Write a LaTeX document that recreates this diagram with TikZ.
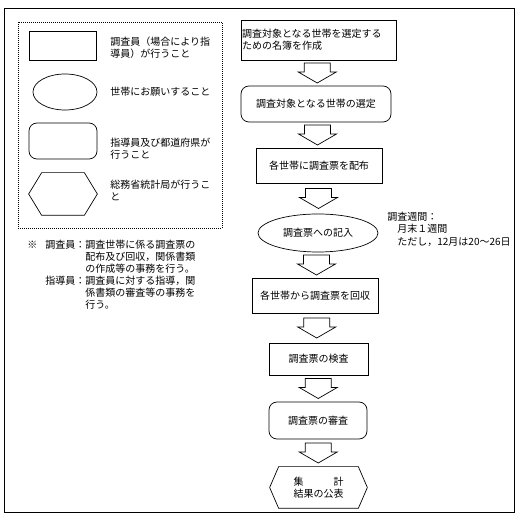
\documentclass[tikz,border=0pt]{standalone}
\usepackage{fontspec}
\newfontfamily\jpfont{Noto Sans CJK JP}
\usetikzlibrary{shapes.geometric,calc}

\begin{document}
\begin{tikzpicture}[
  x=1pt,
  y=-1pt,
  font=\jpfont\fontsize{10}{12}\selectfont,
  line width=0.7pt,
  task/.style={
    draw,
    rectangle,
    inner sep=1pt,
    align=center
  },
  household/.style={
    draw,
    ellipse,
    inner sep=0pt
  },
  guide/.style={
    draw,
    rectangle,
    rounded corners=8pt,
    inner sep=1pt,
    align=center
  },
  bureau/.style={
    rectangle,
    inner sep=0pt,
    align=left
  },
  note/.style={
    inner sep=0pt,
    anchor=west,
    align=left
  }
  ]
  \useasboundingbox (0,0) rectangle (523,521);
  \draw (4,8) rectangle (514,512);
  \draw [dash pattern=on 1pt off 1pt] (18,22) rectangle (222,228);

  \node [task, minimum width=67, minimum height=29] (keyTask) at (63,46) {};
  \node [household, minimum width=64, minimum height=36] (keyHouse) at (65,92) {};
  \node [guide, minimum width=68, minimum height=36] (keyGuide) at (63,141) {};
  \node [bureau, minimum width=68, minimum height=42] (keyBureau) at (63,194) {};
  \node [note] (keyTaskText) at (110,47.5) {調査員（場合により指\\導員）が行うこと};
  \node [note] (keyHouseText) at (110,92) {世帯にお願いすること};
  \node [note] (keyGuideText) at (110,148.5) {指導員及び都道府県が\\行うこと};
  \node [note] (keyBureauText) at (110,190.5) {総務省統計局が行うこ\\と};

  \node [inner sep=0pt, anchor=north west] (remark) at (27,240) {%
    \begin{tabular}{@{}l@{\hspace{8pt}}l@{}l@{}}
      ※ & 調査員： & 調査世帯に係る調査票の\\
         &          & 配布及び回収，関係書類\\
         &          & の作成等の事務を行う。\\
         & 指導員： & 調査員に対する指導，関\\
         &          & 係書類の審査等の事務を\\
         &          & 行う。
    \end{tabular}};

  \node [task, minimum height=40, text width=153, align=left] (list) at (318.5,40) {調査対象となる世帯を選定する\\ための名簿を作成};
  \node [guide, minimum width=150, minimum height=36] (select) at (316,104) {調査対象となる世帯の選定};
  \node [task, minimum width=126, minimum height=35] (distribute) at (319,165.5) {各世帯に調査票を配布};
  \node [household, minimum width=120, minimum height=38] (fill) at (318,233) {調査票への記入};
  \node [task, minimum width=126, minimum height=35] (collect) at (315,295.5) {各世帯から調査票を回収};
  \node [task, minimum width=99, minimum height=32] (inspect) at (318.5,359) {調査票の検査};
  \node [guide, minimum width=98, minimum height=37] (review) at (318,420.5) {調査票の審査};
  \node [bureau, minimum width=97, minimum height=41] (publish) at (318.5,487.5) {\makebox[5em][s]{集\hfill 計}\\結果の公表};
  \node [note, font=\jpfont\fontsize{10}{12.5}\selectfont] (period) at (387,229) {調査週間：\\\hspace*{1em}月末１週間\\\hspace*{1em}ただし，12月は20～26日};

  \foreach \h/\c in {keyBureau/13, publish/9}
    \draw (\h.west) -- ([xshift=\c]\h.north west) -- ([xshift=-\c]\h.north east) -- (\h.east)
      -- ([xshift=-\c]\h.south east) -- ([xshift=\c]\h.south west) -- cycle;

  \foreach \a/\b in {list/select, select/distribute, distribute/fill, fill/collect, collect/inspect, inspect/review, review/publish}
    \draw [shift={($(\a.south)!0.5!(\b.north)$)}] (-13,-10) -- (13,-10) -- (13,-1) -- (19,-1)
      -- (0,10) -- (-19,-1) -- (-13,-1) -- cycle;
\end{tikzpicture}
\end{document}
